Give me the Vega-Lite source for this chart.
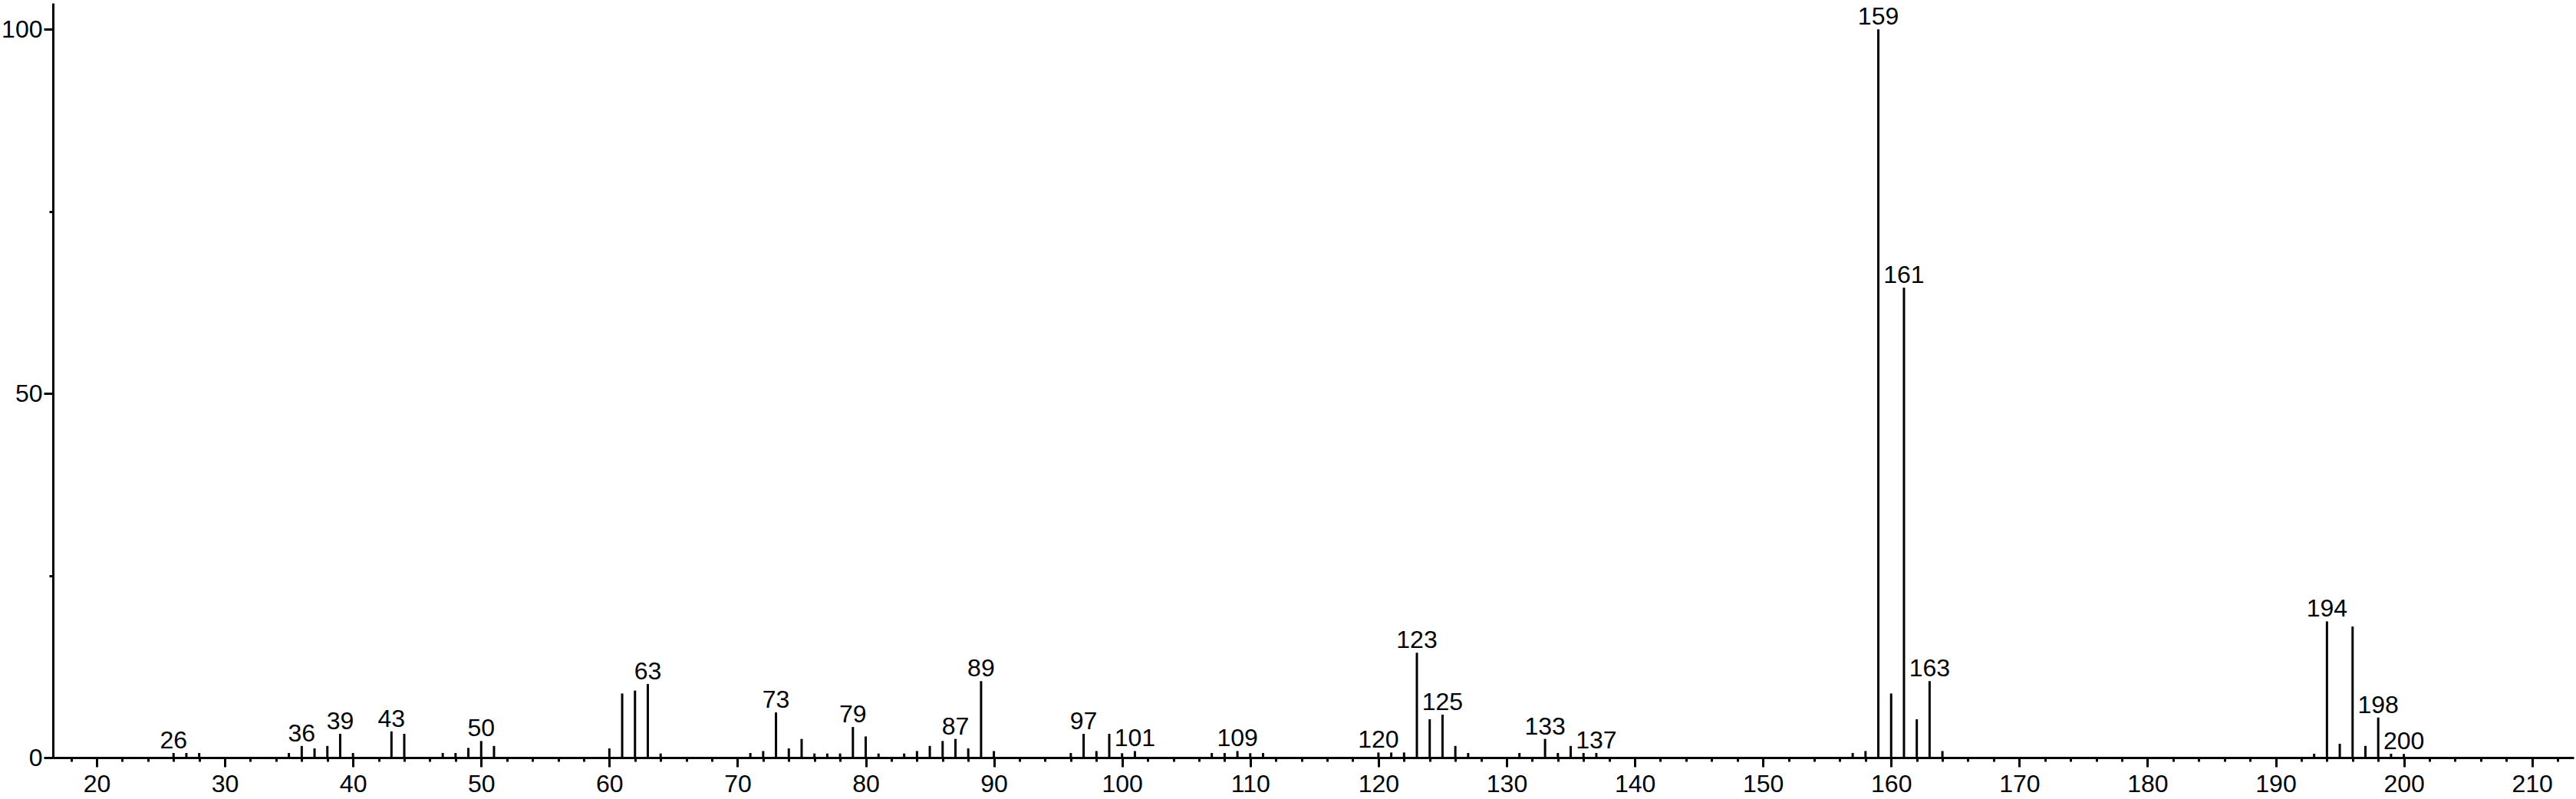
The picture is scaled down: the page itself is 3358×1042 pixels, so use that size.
{
  "$schema": "https://vega.github.io/schema/vega-lite/v6.json",
  "autosize": {"type": "none"},
  "width": 3286,
  "height": 984,
  "padding": {"left": 69, "top": 4, "right": 3, "bottom": 54},
  "background": "white",
  "config": {
    "view": {"stroke": null},
    "axis": {
      "domainColor": "black", "domainWidth": 3, "tickColor": "black", "tickWidth": 3,
      "labelFont": "Liberation Sans", "labelFontSize": 32, "labelColor": "black",
      "grid": false, "title": null
    }
  },
  "data": {"values": [
    {"mz": 26, "intensity": 0.63, "label": "26"},
    {"mz": 27, "intensity": 0.63, "label": ""},
    {"mz": 28, "intensity": 0.63, "label": ""},
    {"mz": 35, "intensity": 0.63, "label": ""},
    {"mz": 36, "intensity": 1.6, "label": "36"},
    {"mz": 37, "intensity": 1.26, "label": ""},
    {"mz": 38, "intensity": 1.6, "label": ""},
    {"mz": 39, "intensity": 3.26, "label": "39"},
    {"mz": 40, "intensity": 0.63, "label": ""},
    {"mz": 43, "intensity": 3.6, "label": "43"},
    {"mz": 44, "intensity": 3.26, "label": ""},
    {"mz": 47, "intensity": 0.63, "label": ""},
    {"mz": 48, "intensity": 0.63, "label": ""},
    {"mz": 49, "intensity": 1.33, "label": ""},
    {"mz": 50, "intensity": 2.28, "label": "50"},
    {"mz": 51, "intensity": 1.6, "label": ""},
    {"mz": 60, "intensity": 1.26, "label": ""},
    {"mz": 61, "intensity": 8.8, "label": ""},
    {"mz": 62, "intensity": 9.2, "label": ""},
    {"mz": 63, "intensity": 10.1, "label": "63"},
    {"mz": 64, "intensity": 0.56, "label": ""},
    {"mz": 71, "intensity": 0.63, "label": ""},
    {"mz": 72, "intensity": 0.9, "label": ""},
    {"mz": 73, "intensity": 6.2, "label": "73"},
    {"mz": 74, "intensity": 1.26, "label": ""},
    {"mz": 75, "intensity": 2.56, "label": ""},
    {"mz": 76, "intensity": 0.56, "label": ""},
    {"mz": 77, "intensity": 0.56, "label": ""},
    {"mz": 78, "intensity": 0.56, "label": ""},
    {"mz": 79, "intensity": 4.2, "label": "79"},
    {"mz": 80, "intensity": 2.9, "label": ""},
    {"mz": 81, "intensity": 0.56, "label": ""},
    {"mz": 83, "intensity": 0.56, "label": ""},
    {"mz": 84, "intensity": 0.9, "label": ""},
    {"mz": 85, "intensity": 1.6, "label": ""},
    {"mz": 86, "intensity": 2.28, "label": ""},
    {"mz": 87, "intensity": 2.56, "label": "87"},
    {"mz": 88, "intensity": 1.26, "label": ""},
    {"mz": 89, "intensity": 10.5, "label": "89"},
    {"mz": 90, "intensity": 0.9, "label": ""},
    {"mz": 96, "intensity": 0.63, "label": ""},
    {"mz": 97, "intensity": 3.26, "label": "97"},
    {"mz": 98, "intensity": 0.9, "label": ""},
    {"mz": 99, "intensity": 3.26, "label": ""},
    {"mz": 100, "intensity": 0.6, "label": ""},
    {"mz": 101, "intensity": 0.9, "label": "101"},
    {"mz": 107, "intensity": 0.63, "label": ""},
    {"mz": 108, "intensity": 0.63, "label": ""},
    {"mz": 109, "intensity": 0.9, "label": "109"},
    {"mz": 110, "intensity": 0.6, "label": ""},
    {"mz": 111, "intensity": 0.63, "label": ""},
    {"mz": 120, "intensity": 0.7, "label": "120"},
    {"mz": 121, "intensity": 0.7, "label": ""},
    {"mz": 122, "intensity": 0.7, "label": ""},
    {"mz": 123, "intensity": 14.4, "label": "123"},
    {"mz": 124, "intensity": 5.26, "label": ""},
    {"mz": 125, "intensity": 5.9, "label": "125"},
    {"mz": 126, "intensity": 1.6, "label": ""},
    {"mz": 127, "intensity": 0.63, "label": ""},
    {"mz": 131, "intensity": 0.63, "label": ""},
    {"mz": 133, "intensity": 2.56, "label": "133"},
    {"mz": 134, "intensity": 0.63, "label": ""},
    {"mz": 135, "intensity": 1.6, "label": ""},
    {"mz": 136, "intensity": 0.63, "label": ""},
    {"mz": 137, "intensity": 0.63, "label": "137"},
    {"mz": 157, "intensity": 0.63, "label": ""},
    {"mz": 158, "intensity": 0.9, "label": ""},
    {"mz": 159, "intensity": 100, "label": "159"},
    {"mz": 160, "intensity": 8.8, "label": ""},
    {"mz": 161, "intensity": 64.5, "label": "161"},
    {"mz": 162, "intensity": 5.26, "label": ""},
    {"mz": 163, "intensity": 10.5, "label": "163"},
    {"mz": 164, "intensity": 0.9, "label": ""},
    {"mz": 193, "intensity": 0.53, "label": ""},
    {"mz": 194, "intensity": 18.7, "label": "194"},
    {"mz": 195, "intensity": 1.9, "label": ""},
    {"mz": 196, "intensity": 18.0, "label": ""},
    {"mz": 197, "intensity": 1.6, "label": ""},
    {"mz": 198, "intensity": 5.5, "label": "198"},
    {"mz": 199, "intensity": 0.53, "label": ""},
    {"mz": 200, "intensity": 0.5, "label": "200"}
  ]},
  "encoding": {
    "x": {
      "field": "mz", "type": "quantitative",
      "scale": {"domain": [16.59, 213.25], "nice": false, "zero": false},
      "axis": {
        "values": [18,20,22,24,26,28,30,32,34,36,38,40,42,44,46,48,50,52,54,56,58,60,62,64,66,68,70,72,74,76,78,80,82,84,86,88,90,92,94,96,98,100,102,104,106,108,110,112,114,116,118,120,122,124,126,128,130,132,134,136,138,140,142,144,146,148,150,152,154,156,158,160,162,164,166,168,170,172,174,176,178,180,182,184,186,188,190,192,194,196,198,200,202,204,206,208,210,212],
        "tickSize": {"expr": "datum.value % 10 === 0 ? 12 : 5"},
        "labelExpr": "datum.value % 10 === 0 ? datum.label : ''",
        "labelOverlap": false, "labelPadding": 7, "labelFlush": false
      }
    },
    "y": {
      "field": "intensity", "type": "quantitative",
      "scale": {"domain": [0, 103.6], "nice": false},
      "axis": {
        "values": [0, 25, 50, 75, 100],
        "tickSize": {"expr": "datum.value % 50 === 0 ? 12 : 5"},
        "labelExpr": "datum.value % 50 === 0 ? datum.label : ''",
        "labelOverlap": false, "labelPadding": 2, "labelFlush": false
      }
    }
  },
  "layer": [
    {
      "mark": {"type": "rule", "color": "black", "strokeWidth": 3},
      "encoding": {"y2": {"datum": 0}}
    },
    {
      "transform": [{"filter": "datum.label !== ''"}],
      "mark": {"type": "text", "font": "Liberation Sans", "fontSize": 32, "color": "black", "baseline": "alphabetic", "align": "center", "dy": -6},
      "encoding": {"text": {"field": "label"}}
    }
  ]
}
